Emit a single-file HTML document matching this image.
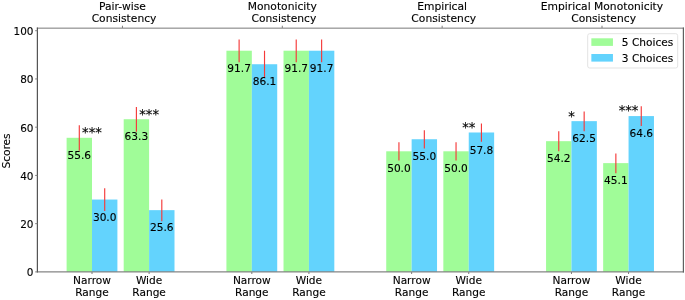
<!DOCTYPE html>
<html lang="en"><head><meta charset="utf-8"><title>Consistency scores</title>
<style>html,body{margin:0;padding:0;background:#fff;}svg{display:block;will-change:transform;}text{font-family:"DejaVu Sans", "Liberation Sans", sans-serif;fill:#000000;stroke:#000;stroke-width:0.12px;}</style></head><body>
<svg width="685" height="300" viewBox="0 0 685 300">
<rect x="0" y="0" width="685" height="300" fill="#ffffff"/>
<rect x="66.60" y="137.79" width="25.40" height="134.21" fill="#a0fc98"/>
<rect x="92.00" y="199.54" width="25.40" height="72.46" fill="#63d3fd"/>
<rect x="123.70" y="119.22" width="25.40" height="152.78" fill="#a0fc98"/>
<rect x="149.10" y="210.15" width="25.40" height="61.85" fill="#63d3fd"/>
<rect x="226.42" y="50.72" width="25.40" height="221.28" fill="#a0fc98"/>
<rect x="251.82" y="64.23" width="25.40" height="207.77" fill="#63d3fd"/>
<rect x="283.52" y="50.72" width="25.40" height="221.28" fill="#a0fc98"/>
<rect x="308.92" y="50.72" width="25.40" height="221.28" fill="#63d3fd"/>
<rect x="386.24" y="151.30" width="25.40" height="120.70" fill="#a0fc98"/>
<rect x="411.64" y="139.24" width="25.40" height="132.76" fill="#63d3fd"/>
<rect x="443.34" y="151.30" width="25.40" height="120.70" fill="#a0fc98"/>
<rect x="468.74" y="132.49" width="25.40" height="139.51" fill="#63d3fd"/>
<rect x="546.06" y="141.17" width="25.40" height="130.83" fill="#a0fc98"/>
<rect x="571.46" y="121.15" width="25.40" height="150.85" fill="#63d3fd"/>
<rect x="603.16" y="163.12" width="25.40" height="108.88" fill="#a0fc98"/>
<rect x="628.56" y="116.08" width="25.40" height="155.92" fill="#63d3fd"/>
<line x1="79.30" y1="125.13" x2="79.30" y2="150.76" stroke="#f53a3a" stroke-width="1.15"/>
<text x="79.30" y="158.94" font-size="10.60" text-anchor="middle">55.6</text>
<line x1="104.70" y1="188.37" x2="104.70" y2="211.01" stroke="#f53a3a" stroke-width="1.15"/>
<text x="104.70" y="220.69" font-size="10.60" text-anchor="middle">30.0</text>
<line x1="136.40" y1="106.99" x2="136.40" y2="131.75" stroke="#f53a3a" stroke-width="1.15"/>
<text x="136.40" y="140.37" font-size="10.60" text-anchor="middle">63.3</text>
<line x1="161.80" y1="199.47" x2="161.80" y2="221.14" stroke="#f53a3a" stroke-width="1.15"/>
<text x="161.80" y="231.30" font-size="10.60" text-anchor="middle">25.6</text>
<line x1="239.12" y1="39.50" x2="239.12" y2="62.24" stroke="#f53a3a" stroke-width="1.15"/>
<text x="239.12" y="71.87" font-size="10.60" text-anchor="middle">91.7</text>
<line x1="264.52" y1="50.72" x2="264.52" y2="78.03" stroke="#f53a3a" stroke-width="1.15"/>
<text x="264.52" y="85.38" font-size="10.60" text-anchor="middle">86.1</text>
<line x1="296.22" y1="39.50" x2="296.22" y2="62.24" stroke="#f53a3a" stroke-width="1.15"/>
<text x="296.22" y="71.87" font-size="10.60" text-anchor="middle">91.7</text>
<line x1="321.62" y1="39.50" x2="321.62" y2="62.24" stroke="#f53a3a" stroke-width="1.15"/>
<text x="321.62" y="71.87" font-size="10.60" text-anchor="middle">91.7</text>
<line x1="398.94" y1="142.33" x2="398.94" y2="160.57" stroke="#f53a3a" stroke-width="1.15"/>
<text x="398.94" y="172.45" font-size="10.60" text-anchor="middle">50.0</text>
<line x1="424.34" y1="130.36" x2="424.34" y2="148.42" stroke="#f53a3a" stroke-width="1.15"/>
<text x="424.34" y="160.39" font-size="10.60" text-anchor="middle">55.0</text>
<line x1="456.04" y1="142.33" x2="456.04" y2="160.57" stroke="#f53a3a" stroke-width="1.15"/>
<text x="456.04" y="172.45" font-size="10.60" text-anchor="middle">50.0</text>
<line x1="481.44" y1="123.51" x2="481.44" y2="141.76" stroke="#f53a3a" stroke-width="1.15"/>
<text x="481.44" y="153.64" font-size="10.60" text-anchor="middle">57.8</text>
<line x1="558.76" y1="131.35" x2="558.76" y2="151.29" stroke="#f53a3a" stroke-width="1.15"/>
<text x="558.76" y="162.32" font-size="10.60" text-anchor="middle">54.2</text>
<line x1="584.16" y1="111.43" x2="584.16" y2="131.17" stroke="#f53a3a" stroke-width="1.15"/>
<text x="584.16" y="142.30" font-size="10.60" text-anchor="middle">62.5</text>
<line x1="615.86" y1="153.40" x2="615.86" y2="173.14" stroke="#f53a3a" stroke-width="1.15"/>
<text x="615.86" y="184.27" font-size="10.60" text-anchor="middle">45.1</text>
<line x1="641.26" y1="106.36" x2="641.26" y2="126.11" stroke="#f53a3a" stroke-width="1.15"/>
<text x="641.26" y="137.23" font-size="10.60" text-anchor="middle">64.6</text>
<text x="92.00" y="137.19" font-size="13.20" text-anchor="middle">***</text>
<text x="149.10" y="118.62" font-size="13.20" text-anchor="middle">***</text>
<text x="468.74" y="131.89" font-size="13.20" text-anchor="middle">**</text>
<text x="571.46" y="120.55" font-size="13.20" text-anchor="middle">*</text>
<text x="628.56" y="115.48" font-size="13.20" text-anchor="middle">***</text>
<line x1="36.90" y1="28.15" x2="683.90" y2="28.15" stroke="#787878" stroke-width="1"/>
<line x1="36.90" y1="271.80" x2="683.90" y2="271.80" stroke="#858585" stroke-width="1.25"/>
<line x1="37.40" y1="27.50" x2="37.40" y2="272.40" stroke="#555555" stroke-width="1.25"/>
<line x1="683.40" y1="27.50" x2="683.40" y2="272.40" stroke="#606060" stroke-width="1.2"/>
<line x1="35.20" y1="271.90" x2="37.40" y2="271.90" stroke="#7d7d7d" stroke-width="1"/>
<text x="33.50" y="276.26" font-size="10.45" text-anchor="end">0</text>
<line x1="35.20" y1="223.66" x2="37.40" y2="223.66" stroke="#7d7d7d" stroke-width="1"/>
<text x="33.50" y="228.02" font-size="10.45" text-anchor="end">20</text>
<line x1="35.20" y1="175.42" x2="37.40" y2="175.42" stroke="#7d7d7d" stroke-width="1"/>
<text x="33.50" y="179.78" font-size="10.45" text-anchor="end">40</text>
<line x1="35.20" y1="127.18" x2="37.40" y2="127.18" stroke="#7d7d7d" stroke-width="1"/>
<text x="33.50" y="131.54" font-size="10.45" text-anchor="end">60</text>
<line x1="35.20" y1="78.94" x2="37.40" y2="78.94" stroke="#7d7d7d" stroke-width="1"/>
<text x="33.50" y="83.30" font-size="10.45" text-anchor="end">80</text>
<line x1="35.20" y1="30.70" x2="37.40" y2="30.70" stroke="#7d7d7d" stroke-width="1"/>
<text x="33.50" y="35.06" font-size="10.45" text-anchor="end">100</text>
<text transform="translate(9.50,151.00) rotate(-90)" font-size="10.60" text-anchor="middle">Scores</text>
<line x1="92.00" y1="272.00" x2="92.00" y2="274.00" stroke="#7d7d7d" stroke-width="1"/>
<text x="92.00" y="283.70" font-size="10.60" text-anchor="middle">Narrow</text>
<text x="92.00" y="295.60" font-size="10.60" text-anchor="middle">Range</text>
<line x1="149.10" y1="272.00" x2="149.10" y2="274.00" stroke="#7d7d7d" stroke-width="1"/>
<text x="149.10" y="283.70" font-size="10.60" text-anchor="middle">Wide</text>
<text x="149.10" y="295.60" font-size="10.60" text-anchor="middle">Range</text>
<line x1="251.82" y1="272.00" x2="251.82" y2="274.00" stroke="#7d7d7d" stroke-width="1"/>
<text x="251.82" y="283.70" font-size="10.60" text-anchor="middle">Narrow</text>
<text x="251.82" y="295.60" font-size="10.60" text-anchor="middle">Range</text>
<line x1="308.92" y1="272.00" x2="308.92" y2="274.00" stroke="#7d7d7d" stroke-width="1"/>
<text x="308.92" y="283.70" font-size="10.60" text-anchor="middle">Wide</text>
<text x="308.92" y="295.60" font-size="10.60" text-anchor="middle">Range</text>
<line x1="411.64" y1="272.00" x2="411.64" y2="274.00" stroke="#7d7d7d" stroke-width="1"/>
<text x="411.64" y="283.70" font-size="10.60" text-anchor="middle">Narrow</text>
<text x="411.64" y="295.60" font-size="10.60" text-anchor="middle">Range</text>
<line x1="468.74" y1="272.00" x2="468.74" y2="274.00" stroke="#7d7d7d" stroke-width="1"/>
<text x="468.74" y="283.70" font-size="10.60" text-anchor="middle">Wide</text>
<text x="468.74" y="295.60" font-size="10.60" text-anchor="middle">Range</text>
<line x1="571.46" y1="272.00" x2="571.46" y2="274.00" stroke="#7d7d7d" stroke-width="1"/>
<text x="571.46" y="283.70" font-size="10.60" text-anchor="middle">Narrow</text>
<text x="571.46" y="295.60" font-size="10.60" text-anchor="middle">Range</text>
<line x1="628.56" y1="272.00" x2="628.56" y2="274.00" stroke="#7d7d7d" stroke-width="1"/>
<text x="628.56" y="283.70" font-size="10.60" text-anchor="middle">Wide</text>
<text x="628.56" y="295.60" font-size="10.60" text-anchor="middle">Range</text>
<line x1="122.45" y1="25.70" x2="122.45" y2="28.00" stroke="#7d7d7d" stroke-width="1"/>
<text x="122.45" y="9.80" font-size="10.72" text-anchor="middle">Pair-wise</text>
<text x="124.05" y="21.80" font-size="10.72" text-anchor="middle">Consistency</text>
<line x1="282.30" y1="25.70" x2="282.30" y2="28.00" stroke="#7d7d7d" stroke-width="1"/>
<text x="282.30" y="9.80" font-size="10.72" text-anchor="middle">Monotonicity</text>
<text x="283.90" y="21.80" font-size="10.72" text-anchor="middle">Consistency</text>
<line x1="442.15" y1="25.70" x2="442.15" y2="28.00" stroke="#7d7d7d" stroke-width="1"/>
<text x="442.15" y="9.80" font-size="10.72" text-anchor="middle">Empirical</text>
<text x="443.75" y="21.80" font-size="10.72" text-anchor="middle">Consistency</text>
<line x1="602.00" y1="25.70" x2="602.00" y2="28.00" stroke="#7d7d7d" stroke-width="1"/>
<text x="602.00" y="9.80" font-size="10.72" text-anchor="middle">Empirical Monotonicity</text>
<text x="603.60" y="21.80" font-size="10.72" text-anchor="middle">Consistency</text>
<rect x="587.7" y="33.7" width="90.0" height="34.3" rx="2" ry="2" fill="#ffffff" fill-opacity="0.8" stroke="#e3e3e3" stroke-width="1"/>
<rect x="591.35" y="38.3" width="21.6" height="7.6" fill="#a0fc98"/>
<rect x="591.35" y="54.0" width="21.6" height="7.6" fill="#63d3fd"/>
<text x="621.8" y="46.2" font-size="10.60">5 Choices</text>
<text x="621.8" y="61.8" font-size="10.60">3 Choices</text>
</svg></body></html>
